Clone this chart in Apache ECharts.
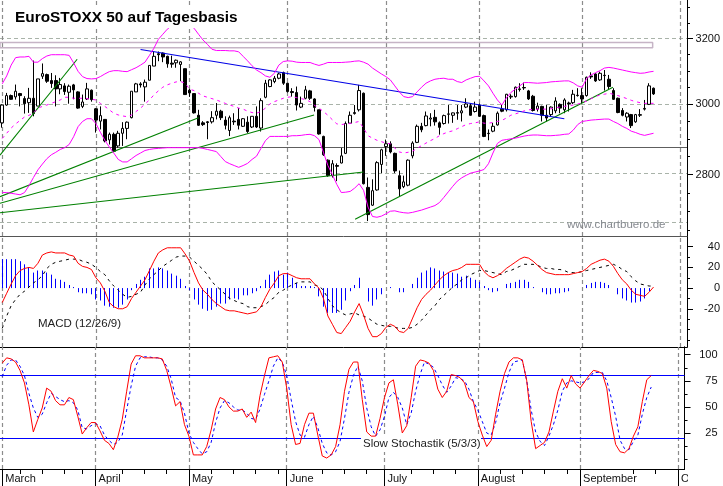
<!DOCTYPE html>
<html><head><meta charset="utf-8">
<style>html,body{margin:0;padding:0;background:#fff}#c{width:723px;height:486px}</style>
<script src="https://cdn.jsdelivr.net/npm/echarts@6/dist/echarts.min.js"></script>
</head><body><div id="c"></div>
<script>
const titleText='EuroSTOXX 50 auf Tagesbasis';
const macdLabel='MACD (12/26/9)';
const stochLabel='Slow Stochastik (5/3/3)';
const siteLabel='www.chartbuero.de';
const monthIdx=[0,21,42,64,86,107,130,152];
const monthNames=['March','April','May','June','July','August','September','October'];
const weekIdx=[4,9,14,18,27,32,37,47,52,57,62,72,77,82,92,97,102,107,112,117,122,127,142,147];
const slots=154;
const opens=[2946,2998,3026,3022,3032,3017,3005,3018,2995,3084,3089,3071,3071,3046,3055,3036,3058,3037,2994,3016,3042,2987,2951,2956,2897,2913,2880,2916,2930,2961,3037,3061,3052,3072,3115,3153,3155,3145,3124,3125,3120,3107,3042,3032,2968,2946,2949,2949,2968,2980,2954,2924,2951,2956,
2936,2948,2934,2965,2931,3021,3053,3068,3078,3095,3063,3038,3035,2992,3018,3040,3016,2984,2907,2840,2797,2825,2832,2859,2945,2973,2984,3033,2765,2717,2758,2828,2878,2886,2859,2797,2767,2771,2852,2890,2936,2938,2957,2962,2946,2944,2971,2968,2974,2975,2992,2996,2979,2998,
2967,2915,2922,2940,2986,2984,3022,3023,3044,3050,3040,3024,2986,2994,2968,2970,2981,3000,2984,3004,3005,3027,3026,3026,3085,3091,3073,3087,3075,3041,3018,2982,2963,2970,2949,2968,2986,3000,3048];
const closes=[2998,3026,3015,3039,3026,3002,3018,2973,3076,3092,3069,3062,3046,3059,3038,3054,3043,2989,3007,3046,3014,2954,2967,2894,2913,2865,2916,2930,2948,3039,3061,3058,3066,3117,3145,3150,3143,3122,3121,3133,3128,3029,3034,2975,2939,2941,2947,2961,2980,2961,2939,2961,2949,2939,
2958,2921,2965,2934,3011,3063,3073,3078,3091,3063,3038,3035,2998,3003,3043,3018,2991,2914,2855,2797,2830,2823,2852,2944,2968,2976,3041,2775,2692,2756,2833,2869,2886,2863,2810,2761,2780,2840,2888,2936,2926,2966,2960,2949,2933,2967,2972,2975,2976,2981,3001,2968,2992,2965,
2907,2916,2936,2974,2980,3030,3024,3051,3046,3049,3016,2982,2995,2968,2960,2992,3010,2989,3013,3002,3030,3026,3016,3081,3082,3070,3093,3086,3053,3015,2976,2968,2974,2938,2970,2970,2988,3055,3031];
const lows=[2932,2996,3014,3014,2994,2973,2975,2965,2995,3076,3064,3049,2994,3030,3028,3002,3015,2987,2989,3013,3008,2918,2927,2890,2884,2862,2875,2880,2899,2959,3037,3050,3008,3072,3115,3130,3127,3110,3110,3110,3069,3029,3022,2973,2937,2937,2899,2944,2956,2954,2927,2908,2940,2927,
2934,2917,2931,2931,2921,3018,3051,3063,3075,3058,3035,3023,2982,2989,3015,3013,2979,2912,2852,2794,2792,2782,2831,2857,2944,2970,2979,2773,2675,2715,2756,2804,2852,2859,2804,2739,2763,2768,2845,2888,2919,2936,2936,2938,2912,2941,2944,2946,2955,2950,2989,2967,2976,2963,
2905,2896,2919,2938,2977,2979,3016,3020,3038,3043,3013,2979,2979,2950,2950,2965,2974,2974,2974,2979,3001,3023,3003,3023,3076,3067,3070,3041,3045,3013,2974,2965,2950,2931,2946,2963,2982,2998,3028];
const highs=[3000,3034,3029,3059,3034,3024,3049,3132,3076,3123,3092,3094,3087,3079,3063,3059,3061,3039,3029,3064,3044,2989,2994,2956,2918,2918,2923,2948,2950,3039,3064,3066,3074,3117,3160,3160,3157,3147,3147,3135,3130,3107,3046,3032,2984,2951,2951,2980,3004,2984,2965,2967,2974,2989,
2960,2965,2965,2994,3018,3073,3075,3085,3095,3098,3065,3048,3053,3023,3055,3043,3018,2984,2909,2842,2840,2831,2874,2950,2979,2998,3058,3035,2792,2787,2837,2872,2898,2893,2861,2811,2797,2842,2893,2941,2946,2979,2974,2984,2950,2970,2998,2976,2998,2998,3018,3003,3008,3003,
2970,2927,2946,2979,2998,3031,3030,3053,3063,3065,3043,3028,3005,2996,2998,2994,3021,3003,3018,3008,3043,3048,3048,3083,3096,3093,3098,3103,3088,3048,3020,2989,2977,2972,2972,2986,3013,3063,3050];
const bbUpper=[3061,3085,3118,3141,3143,3143,3145,3127,3127,3138,3146,3150,3150,3150,3150,3148,3125,3099,3083,3077,3076,3077,3083,3091,3098,3101,3101,3099,3098,3104,3110,3118,3127,3148,3170,3198,3214,3230,3241,3254,3261,3257,3246,3233,3214,3196,3182,3167,3163,3163,3163,3162,3162,3159,
3145,3131,3116,3103,3095,3085,3081,3093,3118,3129,3131,3130,3127,3126,3126,3126,3121,3117,3121,3126,3126,3126,3126,3127,3128,3130,3131,3127,3121,3109,3100,3091,3083,3073,3055,3037,3023,3020,3023,3037,3051,3063,3070,3075,3077,3078,3075,3075,3068,3065,3073,3078,3083,3084,
3070,3055,3033,3013,2998,3019,3035,3045,3055,3065,3065,3064,3063,3064,3065,3067,3068,3069,3070,3070,3064,3055,3051,3077,3088,3095,3101,3109,3111,3109,3106,3103,3100,3097,3095,3093,3094,3097,3099];
const bbLower=[2751,2751,2749,2747,2745,2751,2770,2792,2813,2829,2844,2855,2862,2870,2875,2884,2906,2935,2950,2958,2958,2944,2919,2896,2877,2860,2842,2835,2835,2844,2853,2860,2867,2870,2872,2873,2874,2875,2875,2875,2875,2875,2875,2875,2875,2873,2870,2867,2864,2850,2836,2830,2825,2820,
2825,2831,2842,2851,2873,2895,2907,2907,2907,2907,2907,2909,2909,2910,2912,2913,2909,2898,2862,2825,2800,2773,2751,2752,2754,2763,2775,2757,2712,2687,2685,2688,2694,2701,2702,2699,2697,2696,2698,2701,2704,2708,2712,2716,2724,2738,2753,2768,2782,2791,2798,2804,2807,2810,
2814,2830,2860,2887,2896,2898,2900,2902,2905,2908,2910,2911,2911,2910,2909,2909,2910,2911,2913,2914,2925,2941,2950,2952,2954,2955,2956,2957,2957,2950,2944,2936,2930,2922,2918,2913,2910,2913,2916];
const bbMiddle=[2901,2916,2931,2943,2953,2963,2968,2974,2989,2994,2998,3003,3008,3013,3021,3021,3018,3018,3018,3017,3015,3013,3003,2994,2984,2974,2969,2966,2964,2969,2979,2989,3001,3013,3028,3040,3051,3058,3063,3067,3068,3063,3045,3041,3033,3025,3021,3017,3013,3008,3003,2998,2994,2989,
2986,2980,2976,2974,2979,2989,3001,3008,3013,3018,3021,3023,3020,3017,3014,3008,2997,2989,2979,2968,2955,2943,2941,2943,2944,2947,2950,2931,2909,2902,2896,2892,2888,2886,2874,2863,2860,2862,2865,2873,2881,2888,2895,2901,2909,2915,2920,2923,2929,2935,2941,2944,2946,2949,
2945,2945,2947,2950,2953,2960,2968,2972,2976,2981,2984,2985,2986,2986,2986,2987,2990,2992,2994,2996,2998,3001,3004,3010,3017,3023,3028,3030,3033,3030,3026,3022,3017,3012,3008,3005,3003,3003,3003];
const macdLine=[-14,-5,4,12,17,19,20,19,24,32,34,35,34,34,34,32,31,24,21,20,18,10,5,-3,-14,-18,-20,-20,-18,-10,-4,2,8,17,26,34,37,39,39,39,39,33,26,15,5,-2,-6,-11,-15,-18,-21,-22,-22,-23,
-24,-25,-24,-23,-18,-9,-1,5,12,14,14,12,10,9,9,9,4,0,-10,-27,-35,-43,-44,-38,-32,-23,-15,-26,-39,-47,-47,-44,-38,-35,-37,-42,-43,-39,-29,-19,-11,-6,-2,3,8,12,15,17,18,20,23,23,23,23,
16,12,10,12,15,19,22,25,28,30,29,26,22,18,15,14,13,13,13,13,14,15,16,19,23,25,27,28,26,21,14,8,4,-2,-6,-7,-8,-4,1];
const macdSignal=[-39,-27,-17,-11,-6,-3,1,5,8,12,19,23,25,26,27,28,28,28,26,25,23,20,16,13,7,2,-2,-6,-9,-8,-6,-4,3,9,13,17,21,24,27,30,31,31,30,26,22,18,13,6,2,-2,-6,-10,-12,-14,
-15,-18,-19,-19,-18,-16,-12,-9,-4,-2,1,3,5,6,6,6,3,2,-2,-10,-17,-21,-24,-26,-25,-24,-26,-27,-29,-32,-35,-36,-37,-37,-38,-39,-39,-39,-38,-35,-31,-26,-21,-17,-11,-7,-3,1,4,8,10,13,15,17,
17,16,15,14,13,16,17,19,21,23,23,23,22,20,19,19,18,18,17,15,15,15,16,17,18,19,20,21,22,23,21,18,16,11,7,4,3,2,2];
const macdHist=[28,28,28,28,26,23,20,15,17,17,15,13,9,8,6,3,1,-4,-5,-5,-6,-11,-12,-17,-18,-19,-19,-16,-11,-2,4,8,11,19,19,20,19,17,14,12,9,2,-2,-11,-16,-20,-22,-21,-18,-15,-15,-11,-10,-11,
-7,-7,-5,-3,2,8,13,16,17,13,15,10,5,2,2,2,1,-8,-18,-24,-24,-24,-21,-12,-3,3,10,0,-13,-17,-11,-6,0,1,0,-4,-4,0,4,10,15,17,20,19,17,16,15,15,14,11,12,10,8,6,
2,-2,-4,-3,0,4,5,6,8,8,6,1,0,-4,-6,-6,-5,-5,-4,-3,0,0,0,3,5,6,6,5,3,0,-6,-10,-12,-14,-14,-13,-10,-3,0];
const stochK=[92,97,96,93,85,73,52,26,38,49,68,65,56,52,52,59,57,41,24,30,35,35,27,18,15,9,21,38,65,91,99,99,97,97,97,97,96,85,69,51,55,33,22,4,4,4,12,28,48,59,57,50,46,46,
48,40,45,35,61,80,97,98,99,93,68,33,14,15,33,44,44,23,3,1,4,12,33,65,86,93,93,57,26,22,22,39,59,73,76,52,25,32,59,89,95,94,92,85,67,59,65,81,80,78,73,59,55,36,
23,12,18,43,65,82,93,97,97,95,75,36,10,13,16,26,46,65,77,68,80,72,68,74,80,85,84,82,68,36,14,7,6,10,22,31,55,76,80];
const stochD=[79,90,95,95,89,80,63,49,40,43,54,63,60,57,55,56,54,47,30,29,32,34,32,23,18,14,16,23,47,70,89,97,98,98,97,97,95,89,77,59,56,44,25,16,10,5,7,16,35,49,56,54,50,47,
47,44,39,38,48,62,75,89,97,93,80,57,36,23,21,33,41,30,15,6,4,7,17,39,64,80,89,75,49,31,22,28,41,59,64,59,49,33,44,65,81,93,91,88,80,71,64,70,78,77,75,67,55,47,
36,25,23,35,54,68,83,93,94,95,75,47,26,17,13,22,33,47,65,73,75,74,73,74,77,83,83,83,75,59,41,18,10,9,17,23,43,59,69];
const majorLevels=[3200,3000,2800];
const minorLevels=[3300,3250,3150,3100,3050,2950,2900,2850,2750,2700,2650];
const macdMajor=[40,20,0,-20];
const macdMinor=[30,10,-10,-30,-40,-50];
const stochMajor=[100,75,50,25];
const stochMinor=[87.5,62.5,37.5,12.5,0];
const stochBands=[80,20];
const dashedLevels=[3202,3000,2803,2672];
const supportLevel=2877;
const resistanceBox=[[-0.5,3172],[145.8,3172],[145.8,3188],[-0.5,3188]];
const greenLines=[
 [[-0.5,2854],[16.8,3136]],
 [[-0.5,2740],[44,2961]],
 [[-0.5,2722],[69.9,2969]],
 [[-0.5,2697],[81,2807]],
 [[79.1,2680],[136.9,3051]]
];
const blueLine=[[31,3166],[126,2958]];

const cats=Array.from({length:slots},(_,i)=>{const k=monthIdx.indexOf(i);return k>=0?monthNames[k]:String(i)});
const isMonth=i=>monthIdx.includes(i);
const isWeek=i=>weekIdx.includes(i);
const font='"Liberation Sans",Arial,sans-serif';
const tops=[{top:0,height:236},{top:236,height:111},{top:347,height:122}];
function xCat(g,lineColor,lw,extra){
 return Object.assign({type:'category',gridIndex:g,data:cats,position:'bottom',
  axisLine:{show:true,onZero:false,lineStyle:{color:lineColor,width:lw}},axisTick:{show:false},axisLabel:{show:false},splitLine:{show:false}},extra||{});
}
function yAxisPair(g,base,major,minor,fmt){
 const common=Object.assign({gridIndex:g,position:'right',splitLine:{show:false},axisLine:{show:true,onZero:false,lineStyle:{color:'#000',width:1}}},base);
 return [
  Object.assign({},common,{axisTick:{show:true,length:6,customValues:major,lineStyle:{color:'#000'}},
    axisLabel:{show:true,customValues:major,color:'#111',fontFamily:font,fontSize:11,align:'right',margin:33,padding:[5,0,0,0],showMinLabel:true,showMaxLabel:true,formatter:fmt}}),
  Object.assign({},common,{axisTick:{show:true,length:3,customValues:minor,lineStyle:{color:'#000'}},axisLabel:{show:false}})
 ];
}
function trend(pts,color,w){return {type:'line',xAxisIndex:1,yAxisIndex:0,data:pts,symbol:'none',silent:true,z:4,animation:false,lineStyle:{color:color,width:w}}}
function idxLine(x,y,data,style,z){return {type:'line',xAxisIndex:x,yAxisIndex:y,data:data,symbol:'none',silent:true,z:z||5,animation:false,lineStyle:style}}
const monthMarks=monthNames.map(n=>({xAxis:n,lineStyle:{color:'#8c8c8c',type:[4,3],width:1.2}}));
const bandMarks=stochBands.map(v=>({yAxis:v,lineStyle:{color:'#0000ff',type:'solid',width:1.2}}));

const chart=echarts.init(document.getElementById('c'),null,{renderer:'canvas'});
chart.setOption({
 animation:false,backgroundColor:'#fff',
 title:{text:titleText,left:11,top:8,padding:[2,4,3,4],backgroundColor:'#fff',z:20,
  textStyle:{fontFamily:font,fontWeight:'bold',fontSize:15.4,color:'#000'}},
 grid:tops.map(t=>({left:0,width:687,top:t.top,height:t.height,containLabel:false})),
 xAxis:[
  xCat(0,'#555',1),
  {type:'value',gridIndex:0,min:-0.5,max:153.5,show:false,splitLine:{show:false}},
  xCat(1,'#000',1),
  xCat(2,'#000',1,{
    axisTick:{show:true,interval:isMonth,alignWithLabel:true,length:17,lineStyle:{color:'#000'}},
    axisLabel:{show:true,interval:isMonth,align:'left',padding:[0,0,0,3],margin:4,fontFamily:font,fontSize:11,color:'#111'}}),
  {type:'category',gridIndex:2,data:cats,position:'bottom',axisLine:{show:false,onZero:false},splitLine:{show:false},axisLabel:{show:false},
    axisTick:{show:true,interval:isWeek,alignWithLabel:true,length:5,lineStyle:{color:'#000'}}}
 ],
 yAxis:[
  ...yAxisPair(0,{type:'log',logBase:10,min:2636,max:3324,scale:true},majorLevels,minorLevels,v=>String(Math.round(v))),
  ...yAxisPair(1,{type:'value',min:-57,max:50.4},macdMajor,macdMinor,v=>String(v)),
  ...yAxisPair(2,{type:'value',min:-9.5,max:107.4},stochMajor,stochMinor,v=>String(v))
 ],
 graphic:[
  {type:'text',left:38,top:318,z:30,style:{text:macdLabel,font:'11.5px '+font,fill:'#222'}},
  {type:'rect',left:361,top:437,shape:{width:120,height:15},z:29,style:{fill:'#fff'}},
  {type:'text',left:363,top:438,z:30,style:{text:stochLabel,font:'11.5px '+font,fill:'#222'}},
  {type:'text',left:567,top:219,z:30,style:{text:siteLabel,font:'11.5px '+font,fill:'#85898f'}},
  {type:'rect',left:688,top:471,shape:{width:35,height:15},z:31,style:{fill:'#fff'}}
 ],
 series:[
  {type:'candlestick',xAxisIndex:0,yAxisIndex:0,z:3,barWidth:3,animation:false,silent:true,
   data:opens.map((o,i)=>[o,closes[i],lows[i],highs[i]]),
   itemStyle:{color:'#fff',color0:'#000',borderColor:'#000',borderColor0:'#000',borderWidth:1},
   markLine:{silent:true,symbol:'none',animation:false,label:{show:false},z:1,
    data:[...dashedLevels.map(v=>({yAxis:v,lineStyle:{color:'#a9b3a9',type:[4,3],width:1}})),
          {yAxis:supportLevel,lineStyle:{color:'#5e5e5e',type:'solid',width:1}},...monthMarks]}},
  idxLine(0,0,bbUpper,{color:'#ff00ff',width:1}),
  idxLine(0,0,bbLower,{color:'#ff00ff',width:1}),
  idxLine(0,0,bbMiddle,{color:'#ff00ff',width:1,type:[3,4]}),
  {type:'line',xAxisIndex:1,yAxisIndex:0,data:resistanceBox.concat([resistanceBox[0]]),symbol:'none',silent:true,z:2,animation:false,lineStyle:{color:'#c6b4c6',width:1.5}},
  ...greenLines.map(p=>trend(p,'#008000',1.1)),
  trend(blueLine,'#0000e6',1.1),
  {type:'custom',xAxisIndex:2,yAxisIndex:2,silent:true,animation:false,z:3,
   data:macdHist.map((v,i)=>[i,v]),encode:{x:0,y:1},
   renderItem:(p,api)=>{
    const a=api.coord([api.value(0),0]),b=api.coord([api.value(0),api.value(1)]);
    const px=Math.floor(a[0])+0.5;
    return {type:'line',shape:{x1:px,y1:a[1],x2:px,y2:b[1]},style:{stroke:'#0000ff',lineWidth:1,fill:null}};
   }},
  idxLine(2,2,macdSignal,{color:'#000',width:1,type:[3,4]},4),
  Object.assign(idxLine(2,2,macdLine,{color:'#ff0000',width:1},5),{
   markLine:{silent:true,symbol:'none',animation:false,label:{show:false},z:1,data:monthMarks}}),
  Object.assign(idxLine(3,4,stochD,{color:'#0000ff',width:1,type:[3,3]},4),{
   markLine:{silent:true,symbol:'none',animation:false,label:{show:false},z:1,data:monthMarks}}),
  Object.assign(idxLine(3,4,stochK,{color:'#ff0000',width:1},5),{
   markLine:{silent:true,symbol:'none',animation:false,label:{show:false},data:bandMarks}})
 ]
});
</script></body></html>
